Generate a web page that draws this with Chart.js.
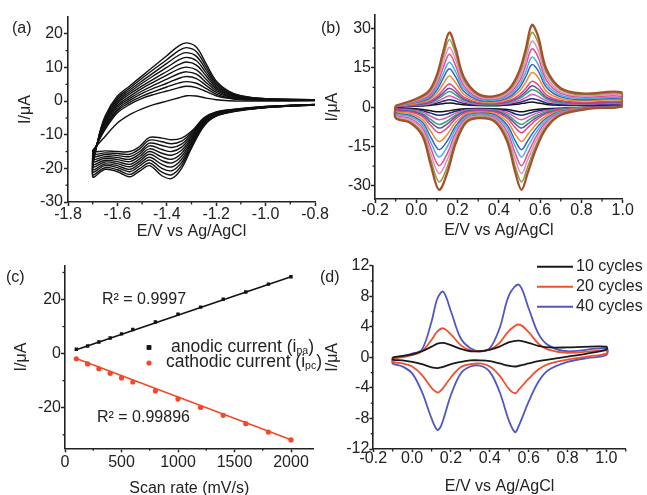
<!DOCTYPE html>
<html><head><meta charset="utf-8">
<script src="https://cdn.jsdelivr.net/npm/chart.js@4.4.1/dist/chart.umd.min.js"></script>
<style>
html,body{margin:0;padding:0;background:#fff;overflow:hidden;width:647px;height:495px;}
canvas{position:absolute;left:0;top:0;}
</style></head><body>
<canvas id="ca" width="647" height="510" style="width:647px;height:510px"></canvas>
<canvas id="cb" width="647" height="510" style="width:647px;height:510px"></canvas>
<canvas id="cc" width="647" height="510" style="width:647px;height:510px"></canvas>
<canvas id="cd" width="647" height="510" style="width:647px;height:510px"></canvas>
<script>
// ---------------- Panel (a) ----------------
const X_A_CATH = [-0.8, -0.95, -1.1, -1.2, -1.25, -1.3, -1.34, -1.38, -1.42, -1.47, -1.51, -1.55, -1.6, -1.65, -1.7];
const X_A_ANOD = [-1.68, -1.65, -1.6, -1.55, -1.5, -1.45, -1.4, -1.35, -1.32, -1.28, -1.24, -1.2, -1.15, -1.1, -1.0, -0.8];
const A_CATHODIC = [
  [-1.2, -1.7, -2.8, -4.5, -7.5, -14, -20, -23, -22.2, -19.2, -20.8, -22.5, -21, -20.3, -22.5],
  [-1.2, -1.7, -2.7, -4.4, -7.3, -13.5, -19.1, -21.9, -21.1, -18.4, -20.1, -21.8, -20.4, -19.8, -21.8],
  [-1.2, -1.6, -2.7, -4.2, -7.0, -13.0, -18.2, -20.7, -20.0, -17.5, -19.3, -21.0, -19.8, -19.2, -21.0],
  [-1.1, -1.6, -2.6, -4.1, -6.8, -12.5, -17.3, -19.6, -18.8, -16.7, -18.6, -20.3, -19.2, -18.7, -20.3],
  [-1.1, -1.6, -2.6, -4.0, -6.5, -12.0, -16.4, -18.4, -17.7, -15.8, -17.9, -19.5, -18.6, -18.1, -19.5],
  [-1.1, -1.6, -2.5, -3.9, -6.3, -11.5, -15.5, -17.3, -16.6, -15.0, -17.2, -18.8, -18.0, -17.6, -18.8],
  [-1.1, -1.5, -2.4, -3.7, -6.0, -11.0, -14.6, -16.1, -15.5, -14.2, -16.4, -18.0, -17.4, -17.0, -18.0],
  [-1.1, -1.5, -2.4, -3.6, -5.8, -10.5, -13.7, -15.0, -14.4, -13.3, -15.7, -17.3, -16.8, -16.5, -17.3],
  [-1.0, -1.5, -2.3, -3.5, -5.5, -10.0, -12.8, -13.8, -13.2, -12.5, -15.0, -16.5, -16.2, -15.9, -16.5],
  [-1.0, -1.4, -2.3, -3.3, -5.3, -9.5, -11.9, -12.7, -12.1, -11.6, -14.2, -15.8, -15.6, -15.4, -15.8],
  [-1.0, -1.4, -2.2, -3.2, -5.0, -9.0, -11.0, -11.5, -11.0, -10.8, -13.5, -15.0, -15.0, -14.8, -15.0]
];
const A_ANODIC = [
  [-12, -4.5, 1.5, 4.5, 7.5, 10.5, 13.5, 16.5, 17.3, 16, 11, 6, 3, 1.6, 0.7, 0.4],
  [-12.1, -4.9, 0.9, 3.9, 6.8, 9.6, 12.3, 15.1, 15.9, 14.7, 10.1, 5.5, 2.8, 1.5, 0.7, 0.4],
  [-12.1, -5.4, 0.4, 3.3, 6.0, 8.6, 11.2, 13.7, 14.4, 13.3, 9.2, 5.0, 2.5, 1.3, 0.6, 0.4],
  [-12.2, -5.8, -0.2, 2.7, 5.3, 7.7, 10.0, 12.3, 13.0, 12.0, 8.3, 4.5, 2.3, 1.2, 0.6, 0.4],
  [-12.2, -6.3, -0.7, 2.1, 4.5, 6.7, 8.8, 10.9, 11.6, 10.7, 7.4, 4.0, 2.0, 1.1, 0.5, 0.3],
  [-12.3, -6.7, -1.3, 1.4, 3.8, 5.8, 7.7, 9.6, 10.1, 9.3, 6.4, 3.6, 1.8, 0.9, 0.5, 0.3],
  [-12.3, -7.2, -1.8, 0.8, 3.0, 4.8, 6.5, 8.2, 8.7, 8.0, 5.5, 3.1, 1.5, 0.8, 0.4, 0.3],
  [-12.4, -7.6, -2.4, 0.2, 2.3, 3.9, 5.3, 6.8, 7.3, 6.7, 4.6, 2.6, 1.3, 0.7, 0.4, 0.3],
  [-12.4, -8.1, -2.9, -0.4, 1.5, 2.9, 4.2, 5.4, 5.8, 5.3, 3.7, 2.1, 1.0, 0.5, 0.3, 0.3],
  [-12.5, -8.5, -3.5, -1.0, 0.8, 2.0, 3.0, 4.0, 4.4, 4.0, 2.8, 1.6, 0.8, 0.4, 0.3, 0.3],
  [-13, -10.5, -6.5, -4, -2.3, -1, 0, 1, 1.6, 1.5, 0.9, 0.4, 0.1, 0, 0, 0.1]
];
const TICKS_A_X = [-1.8, -1.6, -1.4, -1.2, -1.0, -0.8];
const TICKS_A_Y = [-30, -20, -10, 0, 10, 20];
const MINOR_A_X = [-1.7, -1.5, -1.3, -1.1, -0.9];
const MINOR_A_Y = [-25, -15, -5, 5, 15];

// ---------------- Panel (b) ----------------
const X_B_UP = [-0.1, 0.0, 0.06, 0.1, 0.13, 0.16, 0.19, 0.23, 0.3, 0.38, 0.45, 0.5, 0.53, 0.56, 0.59, 0.63, 0.7, 0.8, 1.0];
const X_B_DN = [1.0, 0.85, 0.7, 0.63, 0.58, 0.54, 0.51, 0.48, 0.44, 0.38, 0.3, 0.24, 0.19, 0.15, 0.11, 0.07, 0.03, -0.03, -0.1];
const B_UP = [
  [0.5, 3.2, 6, 12.3, 21, 28.4, 22.5, 11.5, 5, 4.2, 7, 14, 22, 31.3, 27, 14.5, 7.2, 5.2, 5.5],
  [0.5, 2.9, 5.5, 11.2, 19.0, 25.7, 20.4, 10.4, 4.6, 3.8, 6.4, 12.7, 20.0, 28.4, 24.5, 13.2, 6.6, 4.7, 5.0],
  [0.4, 2.6, 4.9, 9.9, 16.9, 22.8, 18.1, 9.3, 4.1, 3.4, 5.7, 11.3, 17.7, 25.1, 21.7, 11.7, 5.8, 4.2, 4.5],
  [0.4, 2.3, 4.3, 8.8, 14.9, 20.1, 15.9, 8.2, 3.6, 3.1, 5.1, 10.0, 15.7, 22.2, 19.1, 10.3, 5.2, 3.8, 4.0],
  [0.4, 2.0, 3.7, 7.6, 12.7, 17.1, 13.6, 7.1, 3.2, 2.7, 4.4, 8.6, 13.4, 19.0, 16.3, 8.8, 4.5, 3.3, 3.5],
  [0.4, 1.8, 3.2, 6.5, 10.9, 14.6, 11.6, 6.0, 2.7, 2.3, 3.8, 7.4, 11.5, 16.2, 13.9, 7.6, 3.9, 2.8, 3.1],
  [0.3, 1.5, 2.7, 5.3, 8.8, 11.8, 9.4, 4.9, 2.3, 1.9, 3.2, 6.1, 9.4, 13.1, 11.3, 6.1, 3.2, 2.4, 2.6],
  [0.3, 1.2, 2.1, 4.1, 6.6, 8.8, 7.0, 3.8, 1.8, 1.5, 2.5, 4.7, 7.1, 9.8, 8.5, 4.7, 2.5, 1.8, 2.1],
  [0.3, 1.0, 1.7, 3.4, 5.4, 7.2, 5.8, 3.1, 1.5, 1.3, 2.1, 3.9, 5.9, 8.1, 6.9, 3.8, 2.1, 1.6, 1.8],
  [0.3, 0.9, 1.5, 2.8, 4.5, 5.9, 4.7, 2.6, 1.3, 1.1, 1.8, 3.3, 4.9, 6.6, 5.7, 3.2, 1.7, 1.3, 1.6],
  [0.2, 0.7, 1.1, 2.1, 3.3, 4.3, 3.4, 2.0, 1.0, 0.9, 1.4, 2.5, 3.6, 4.8, 4.1, 2.4, 1.4, 1.1, 1.3],
  [0.2, 0.5, 0.8, 1.5, 2.2, 2.8, 2.3, 1.4, 0.8, 0.7, 1.1, 1.8, 2.5, 3.2, 2.7, 1.6, 1.0, 0.8, 1.0],
  [0.2, 0.4, 0.6, 1.0, 1.3, 1.6, 1.3, 0.9, 0.6, 0.5, 0.8, 1.2, 1.6, 1.9, 1.6, 1.0, 0.7, 0.6, 0.8]
];
const B_DN = [
  [0.5, -0.5, -3.0, -8.0, -16.0, -25.0, -31.5, -25.0, -13.0, -5.5, -4.2, -6.0, -14.0, -25.0, -31.5, -22.0, -11.0, -6.0, -4.2],
  [0.5, -0.5, -2.7, -7.3, -14.5, -22.6, -28.5, -22.7, -11.8, -5.0, -3.8, -5.5, -12.7, -22.7, -28.5, -19.9, -10.0, -5.4, -3.8],
  [0.4, -0.4, -2.5, -6.4, -12.8, -20.0, -25.3, -20.1, -10.5, -4.5, -3.4, -4.9, -11.3, -20.1, -25.3, -17.7, -8.9, -4.8, -3.4],
  [0.4, -0.4, -2.2, -5.7, -11.3, -17.7, -22.3, -17.7, -9.3, -4.0, -3.1, -4.3, -10.0, -17.7, -22.3, -15.6, -7.9, -4.3, -3.0],
  [0.4, -0.3, -1.9, -4.9, -9.7, -15.1, -19.0, -15.1, -7.9, -3.4, -2.6, -3.7, -8.5, -15.1, -19.0, -13.4, -6.8, -3.6, -2.5],
  [0.3, -0.3, -1.7, -4.2, -8.2, -12.8, -16.2, -12.9, -6.8, -3.0, -2.3, -3.2, -7.3, -12.9, -16.2, -11.4, -5.8, -3.1, -2.1],
  [0.3, -0.3, -1.4, -3.4, -6.6, -10.4, -13.1, -10.4, -5.5, -2.5, -1.9, -2.7, -5.9, -10.4, -13.1, -9.2, -4.7, -2.5, -1.7],
  [0.3, -0.2, -1.1, -2.6, -5.0, -7.8, -9.8, -7.9, -4.2, -1.9, -1.5, -2.1, -4.5, -7.9, -9.8, -7.0, -3.6, -1.9, -1.3],
  [0.3, -0.2, -1.0, -2.2, -4.1, -6.4, -8.0, -6.4, -3.4, -1.6, -1.3, -1.7, -3.7, -6.4, -8.0, -5.7, -3.0, -1.6, -1.0],
  [0.2, -0.2, -0.8, -1.8, -3.3, -5.2, -6.6, -5.3, -2.8, -1.4, -1.1, -1.5, -3.1, -5.3, -6.6, -4.7, -2.5, -1.3, -0.8],
  [0.2, -0.1, -0.7, -1.3, -2.4, -3.8, -4.8, -3.9, -2.1, -1.1, -0.9, -1.1, -2.3, -3.9, -4.8, -3.5, -1.9, -1.0, -0.6],
  [0.2, -0.1, -0.5, -0.9, -1.6, -2.5, -3.1, -2.6, -1.4, -0.8, -0.7, -0.8, -1.6, -2.6, -3.1, -2.3, -1.4, -0.7, -0.4],
  [0.2, -0.1, -0.4, -0.6, -0.9, -1.4, -1.8, -1.5, -0.9, -0.6, -0.5, -0.6, -1.0, -1.5, -1.8, -1.4, -0.9, -0.4, -0.2]
];
const B_COLORS = ['#a3512b','#8c9b3e','#e58cc4','#db4f93','#4aaee0','#3366b8','#f08b2c','#e3467c','#6c4aa5','#35a57a','#d65bb5','#1f2b80','#111111'];
const TICKS_B_X = [-0.2, 0.0, 0.2, 0.4, 0.6, 0.8, 1.0];
const TICKS_B_Y = [-30, -15, 0, 15, 30];
const MINOR_B_X = [-0.1, 0.1, 0.3, 0.5, 0.7, 0.9];
const MINOR_B_Y = [-22.5, -7.5, 7.5, 22.5];

// ---------------- Panel (c) ----------------
const SCAN_RATE = [100, 200, 300, 400, 500, 600, 800, 1000, 1200, 1400, 1600, 1800, 2000];
const I_PA = [1.6, 2.8, 4.3, 5.8, 7.3, 8.9, 11.7, 14.6, 17.2, 20.1, 22.8, 25.7, 28.4];
const I_PC = [-1.9, -3.8, -5.6, -7.3, -9.0, -10.5, -13.8, -16.8, -19.9, -22.8, -25.9, -29.0, -31.9];
const FIT_X = [100, 2000];
const FIT_PA = [1.4, 28.4];
const FIT_PC = [-1.85, -31.85];
const TICKS_C_X = [0, 500, 1000, 1500, 2000];
const TICKS_C_Y = [-20, 0, 20];
const MINOR_C_X = [250, 750, 1250, 1750];
const MINOR_C_Y = [-30, -10, 10, 30];

// ---------------- Panel (d) ----------------
const X_D_UP = [-0.1, 0.0, 0.05, 0.1, 0.13, 0.16, 0.2, 0.25, 0.3, 0.35, 0.4, 0.45, 0.5, 0.55, 0.6, 0.65, 0.7, 0.8, 1.0];
const X_D_DN = [1.0, 0.9, 0.8, 0.7, 0.65, 0.6, 0.55, 0.53, 0.5, 0.45, 0.4, 0.35, 0.3, 0.25, 0.2, 0.15, 0.13, 0.1, 0.05, 0.0, -0.05, -0.1];
const D_LABELS = ['10 cycles', '20 cycles', '40 cycles'];
const D10_UP = [0.0, 0.4, 0.8, 1.4, 1.8, 1.9, 1.6, 1.1, 0.8, 0.8, 1.0, 1.4, 2.0, 2.2, 1.9, 1.5, 1.3, 1.3, 1.4];
const D10_DN = [1.0, 0.5, 0.1, -0.3, -0.5, -0.8, -1.1, -1.2, -1.1, -0.8, -0.5, -0.4, -0.4, -0.6, -0.9, -1.3, -1.4, -1.3, -0.9, -0.6, -0.4, -0.3];
const D20_UP = [-0.2, 0.3, 0.8, 2.3, 3.4, 3.8, 3.0, 1.6, 0.9, 0.8, 1.0, 1.9, 3.5, 4.3, 3.3, 1.8, 1.0, 0.6, 0.9];
const D20_DN = [0.5, 0.1, -0.3, -0.9, -1.6, -2.8, -4.2, -4.7, -4.2, -2.4, -1.2, -0.8, -0.9, -1.3, -2.6, -4.3, -4.6, -4.0, -2.3, -1.2, -0.8, -0.6];
const D40_UP = [-0.1, 0.5, 1.0, 4.7, 7.7, 8.6, 6.0, 2.5, 1.2, 0.8, 1.2, 3.8, 8.2, 9.5, 6.4, 3.1, 1.6, 0.8, 1.2];
const D40_DN = [0.3, -0.1, -0.6, -1.7, -3.2, -5.8, -8.9, -9.8, -8.4, -4.5, -1.9, -1.1, -1.2, -2.1, -4.9, -8.9, -9.5, -8.0, -4.5, -2.1, -1.2, -0.8];
const D_COLORS = ['#1a1a1a', '#ee5030', '#5157c0'];
const TICKS_D_X = [-0.2, 0.0, 0.2, 0.4, 0.6, 0.8, 1.0];
const TICKS_D_Y = [-12, -8, -4, 0, 4, 8, 12];
const MINOR_D_X = [-0.1, 0.1, 0.3, 0.5, 0.7, 0.9, 1.1];
const MINOR_D_Y = [-10, -6, -2, 2, 6, 10];

// ---------------- helpers ----------------
const FONT = "'Liberation Sans', Arial, sans-serif";
const INK = '#222';
Chart.defaults.font.family = FONT;
Chart.defaults.color = INK;

function pts(xs, ys) { return xs.map((x, i) => ({x: x, y: ys[i]})); }
function loop(xu, yu, xd, yd) { const p = pts(xu, yu).concat(pts(xd, yd)); p.push({x: xu[0], y: yu[0]}); return p; }

function axis(o) {
  return {
    type: 'linear', min: o.min, max: o.max,
    afterBuildTicks: s => { s.ticks = o.ticks.map(v => ({value: v})); },
    afterFit: s => { if (o.h !== undefined) s.height = o.h; else s.width = o.w; },
    ticks: { autoSkip: false, maxRotation: 0, minRotation: 0, padding: o.pad, color: INK,
      font: {size: 16, lineHeight: 1},
      callback: v => o.dec ? Number(v).toFixed(o.dec) : String(v) },
    grid: { display: true, drawOnChartArea: false, drawTicks: true, tickLength: (o.tl || 4), tickWidth: 1.5, tickColor: INK },
    border: { display: true, color: INK, width: 1.6 },
    title: { display: true, text: o.title, color: INK, font: {size: 16, lineHeight: 1.2}, padding: 0 }
  };
}

const minorPlugin = {
  id: 'minor',
  afterDraw(chart, args, opts) {
    const ctx = chart.ctx, ca = chart.chartArea, xs = chart.scales.x, ys = chart.scales.y;
    ctx.save(); ctx.strokeStyle = INK; ctx.lineWidth = 1.3;
    (opts.x || []).forEach(v => { const p = xs.getPixelForValue(v); ctx.beginPath(); ctx.moveTo(p, ca.bottom); ctx.lineTo(p, ca.bottom + 2.5); ctx.stroke(); });
    (opts.y || []).forEach(v => { const p = ys.getPixelForValue(v); ctx.beginPath(); ctx.moveTo(ca.left, p); ctx.lineTo(ca.left - 2.5, p); ctx.stroke(); });
    ctx.restore();
  }
};

const textPlugin = {
  id: 'texts',
  afterDraw(chart, args, opts) {
    const ctx = chart.ctx;
    (opts.items || []).forEach(it => {
      ctx.save();
      if (it.marker) {
        const m = it.marker;
        ctx.fillStyle = m.color; ctx.strokeStyle = m.color;
        if (m.type === 'rect') ctx.fillRect(m.x - m.r, m.y - m.r, 2 * m.r, 2 * m.r);
        else if (m.type === 'circle') { ctx.beginPath(); ctx.arc(m.x, m.y, m.r, 0, Math.PI * 2); ctx.fill(); }
        else if (m.type === 'line') { ctx.lineWidth = m.w; ctx.beginPath(); ctx.moveTo(m.x, m.y); ctx.lineTo(m.x2, m.y); ctx.stroke(); }
      }
      let x = it.x;
      ctx.textBaseline = 'middle'; ctx.textAlign = 'left';
      ctx.fillStyle = it.color || INK;
      (it.parts || []).forEach(p => {
        ctx.font = p.size + 'px ' + FONT;
        ctx.fillText(p.t, x, it.y + (p.dy || 0));
        x += ctx.measureText(p.t).width;
      });
      ctx.restore();
    });
  }
};

function mk(id, cfg) {
  return new Chart(document.getElementById(id), {
    type: 'scatter',
    data: { datasets: cfg.datasets },
    options: {
      responsive: false, animation: false, events: [],
      layout: { padding: cfg.pad },
      plugins: { legend: {display: false}, tooltip: {enabled: false}, minor: cfg.minor, texts: {items: cfg.texts} },
      scales: { x: axis(cfg.x), y: axis(cfg.y) }
    },
    plugins: [minorPlugin, textPlugin]
  });
}
function lineDs(data, color, w) {
  return { data: data, showLine: true, borderColor: color, backgroundColor: color, borderWidth: w, pointRadius: 0, tension: 0.35, fill: false };
}

// ---------------- chart (a) ----------------
mk('ca', {
  pad: {left: 16.4, top: 17, right: 332, bottom: 268.4},
  x: {min: -1.8, max: -0.8, ticks: TICKS_A_X, dec: 1, h: 39.6, pad: 1, title: 'E/V vs Ag/AgCl'},
  y: {min: -30, max: 25, ticks: TICKS_A_Y, w: 51.6, pad: 1, title: 'I/\u03bcA'},
  minor: {x: MINOR_A_X, y: MINOR_A_Y},
  datasets: A_CATHODIC.map((c, k) => lineDs(pts(X_A_CATH, c).concat(pts(X_A_ANOD, A_ANODIC[k])), '#111', 1.4)),
  texts: [{x: 12, y: 29, parts: [{t: '(a)', size: 16}]}]
});

// ---------------- chart (b) ----------------
mk('cb', {
  pad: {left: 323.4, top: 15.2, right: 24.3, bottom: 269.4},
  x: {min: -0.2, max: 1.0, ticks: TICKS_B_X, dec: 1, h: 41.6, pad: 0, title: 'E/V vs Ag/AgCl'},
  y: {min: -35, max: 35, ticks: TICKS_B_Y, w: 51.6, pad: 0, title: 'I/\u03bcA'},
  minor: {x: MINOR_B_X, y: MINOR_B_Y},
  datasets: B_UP.map((u, k) => lineDs(loop(X_B_UP, u, X_B_DN, B_DN[k]), B_COLORS[k], k === 0 ? 2.3 : 1.5)),
  texts: [{x: 321, y: 29, parts: [{t: '(b)', size: 16}]}]
});

// ---------------- chart (c) ----------------
mk('cc', {
  pad: {left: 12.4, top: 265.7, right: 333.4, bottom: 11.4},
  x: {min: 0, max: 2200, ticks: TICKS_C_X, h: 50.3, pad: 2, title: 'Scan rate (mV/s)'},
  y: {min: -35, max: 32.5, ticks: TICKS_C_Y, w: 52.6, pad: 0, title: 'I/\u03bcA'},
  minor: {x: MINOR_C_X, y: MINOR_C_Y},
  datasets: [
    { data: pts(SCAN_RATE, I_PA), showLine: false, pointStyle: 'rect', pointRadius: 2.4, backgroundColor: '#111', borderColor: '#111', borderWidth: 0 },
    { data: pts(SCAN_RATE, I_PC), showLine: false, pointStyle: 'circle', pointRadius: 2.6, backgroundColor: '#f04a28', borderColor: '#f04a28', borderWidth: 0 },
    { data: pts(FIT_X, FIT_PA), showLine: true, borderColor: '#111', borderWidth: 1.6, pointRadius: 0, tension: 0 },
    { data: pts(FIT_X, FIT_PC), showLine: true, borderColor: '#f04a28', borderWidth: 1.6, pointRadius: 0, tension: 0 }
  ],
  texts: [
    {x: 6, y: 278, parts: [{t: '(c)', size: 16}]},
    {x: 102, y: 300, parts: [{t: 'R\u00b2 = 0.9997', size: 16}]},
    {x: 97, y: 418, parts: [{t: 'R\u00b2 = 0.99896', size: 16}]},
    {x: 171, y: 347, marker: {type: 'rect', x: 149, y: 347.5, r: 2.4, color: '#111'},
      parts: [{t: 'anodic current (i', size: 17.5}, {t: 'pa', size: 10.5, dy: 4}, {t: ')', size: 17.5}]},
    {x: 166, y: 362.5, marker: {type: 'circle', x: 149, y: 363, r: 2.6, color: '#f04a28'},
      parts: [{t: 'cathodic current (i', size: 17.5}, {t: 'pc', size: 10.5, dy: 4}, {t: ')', size: 17.5}]}
  ]
});

// ---------------- chart (d) ----------------
mk('cd', {
  pad: {left: 323.4, top: 265.7, right: 21.2, bottom: 13.4},
  x: {min: -0.2, max: 1.1, ticks: TICKS_D_X, dec: 1, h: 47.6, pad: -1, tl: 3, title: 'E/V vs Ag/AgCl'},
  y: {min: -12, max: 12, ticks: TICKS_D_Y, w: 49.9, pad: 0, title: 'I/\u03bcA'},
  minor: {x: MINOR_D_X, y: MINOR_D_Y},
  datasets: [
    lineDs(loop(X_D_UP, D10_UP, X_D_DN, D10_DN), D_COLORS[0], 1.8),
    lineDs(loop(X_D_UP, D20_UP, X_D_DN, D20_DN), D_COLORS[1], 1.8),
    lineDs(loop(X_D_UP, D40_UP, X_D_DN, D40_DN), D_COLORS[2], 1.8)
  ],
  texts: [
    {x: 320, y: 278, parts: [{t: '(d)', size: 16}]},
    {x: 576, y: 266.7, marker: {type: 'line', x: 537, x2: 573, y: 266.7, w: 2, color: D_COLORS[0]}, parts: [{t: D_LABELS[0], size: 16}]},
    {x: 576, y: 286.7, marker: {type: 'line', x: 537, x2: 573, y: 286.7, w: 2, color: D_COLORS[1]}, parts: [{t: D_LABELS[1], size: 16}]},
    {x: 576, y: 306.7, marker: {type: 'line', x: 537, x2: 573, y: 306.7, w: 2, color: D_COLORS[2]}, parts: [{t: D_LABELS[2], size: 16}]}
  ]
});
</script>
</body></html>
